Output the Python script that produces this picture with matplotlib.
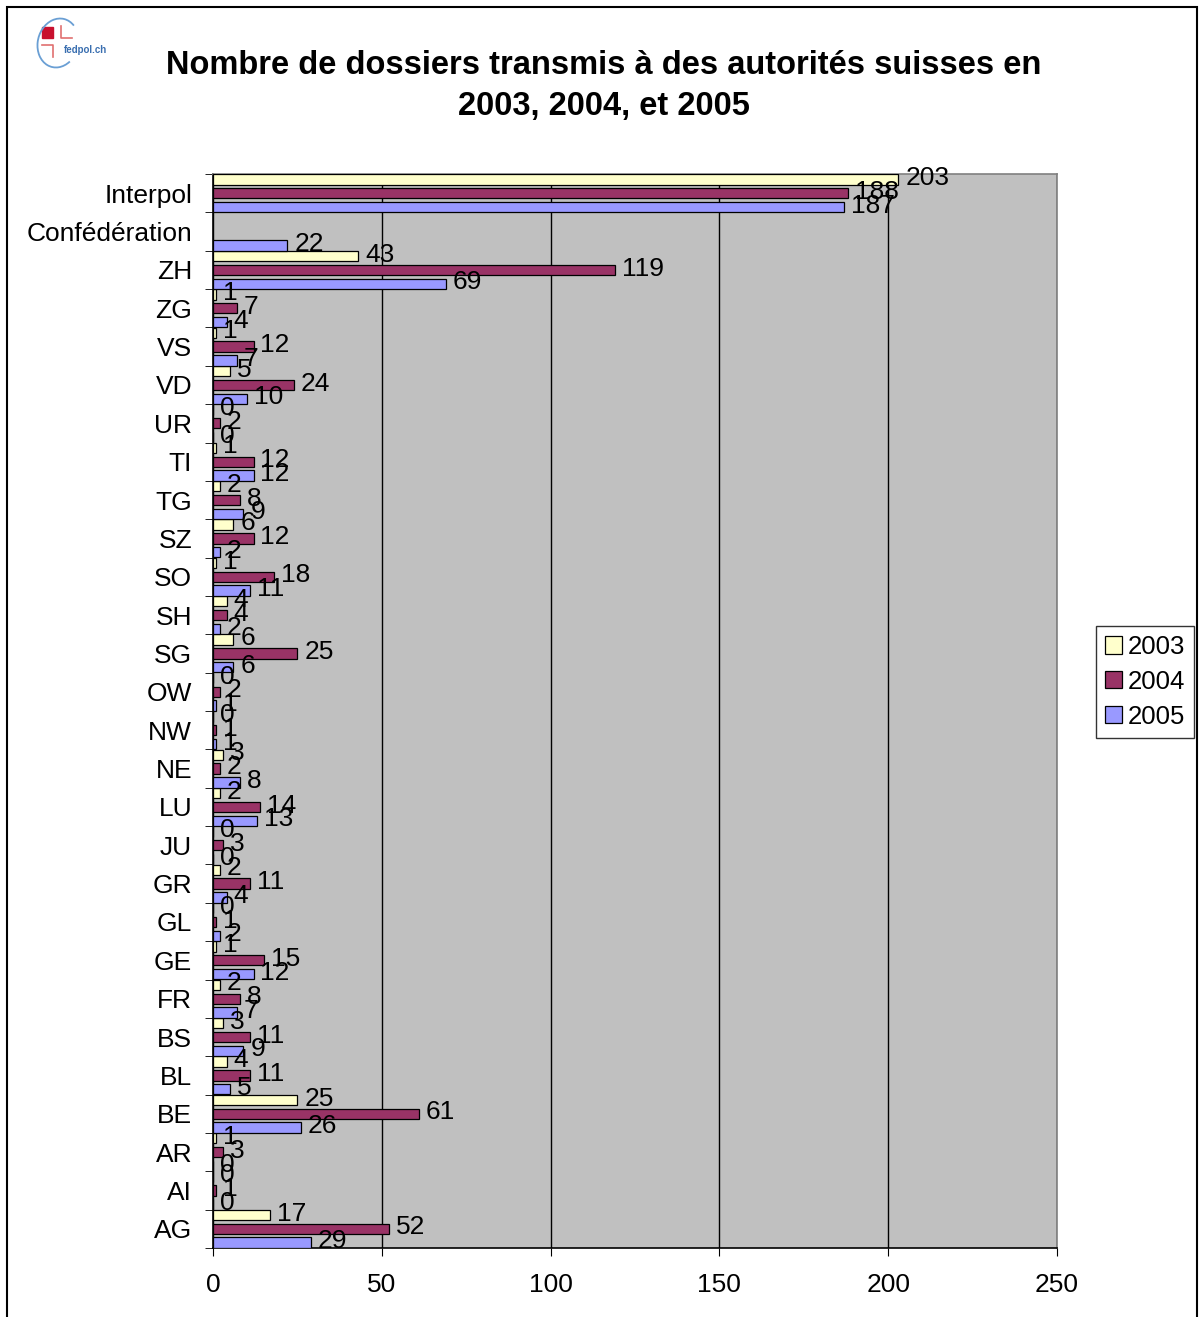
import numpy as np
import matplotlib
matplotlib.use('Agg')
import matplotlib.pyplot as plt
from matplotlib.patches import Rectangle, Patch, Arc
from matplotlib.lines import Line2D

plt.rcParams['font.family'] = ['Liberation Sans', 'DejaVu Sans']

# categories top to bottom
cats = ['Interpol', 'Confédération', 'ZH', 'ZG', 'VS', 'VD', 'UR', 'TI', 'TG', 'SZ',
        'SO', 'SH', 'SG', 'OW', 'NW', 'NE', 'LU', 'JU', 'GR', 'GL', 'GE', 'FR',
        'BS', 'BL', 'BE', 'AR', 'AI', 'AG']
v2003 = [203, np.nan, 43, 1, 1, 5, 0, 1, 2, 6, 1, 4, 6, 0, 0, 3, 2, 0, 2, 0, 1, 2,
         3, 4, 25, 1, 0, 17]
v2004 = [188, np.nan, 119, 7, 12, 24, 2, 12, 8, 12, 18, 4, 25, 2, 1, 2, 14, 3, 11, 1,
         15, 8, 11, 11, 61, 3, 1, 52]
v2005 = [187, 22, 69, 4, 7, 10, 0, 12, 9, 2, 11, 2, 6, 1, 1, 8, 13, 0, 4, 2, 12, 7,
         9, 5, 26, 0, 0, 29]
years = ['2003', '2004', '2005']
colors = ['#FFFFCC', '#993366', '#9999FF']

fig = plt.figure(figsize=(12.02, 13.17), dpi=100)
ax = fig.add_axes([213/1202, 1-1248/1317, (1057-213)/1202, (1248-174)/1317])
ax.set_facecolor('#C0C0C0')

y = np.arange(len(cats))
offs = [-0.36, 0.0, 0.36]
fs = 19
for vals, off, c in zip([v2003, v2004, v2005], offs, colors):
    vals = np.array(vals, dtype=float)
    ax.barh(y + off, vals, height=0.27, color=c, edgecolor='black', linewidth=0.9, zorder=3)
    for yi, v in zip(y + off, vals):
        if np.isnan(v):
            continue
        ax.annotate(str(int(v)), (v, yi), xytext=(5, 1), textcoords='offset points',
                    ha='left', va='center', fontsize=fs, zorder=4, annotation_clip=False)

ax.set_xlim(0, 250)
ax.set_ylim(len(cats) - 0.5, -0.5)
ax.set_xticks(np.arange(0, 251, 50))
ax.xaxis.grid(True, color='black', linewidth=1, zorder=1)
ax.set_axisbelow(True)
ax.tick_params(axis='x', labelsize=fs, length=6, direction='out', pad=12, color='black')

ax.set_yticks(y)
ax.set_yticklabels(cats)
ax.set_yticks(np.arange(-0.5, len(cats), 1), minor=True)
ax.tick_params(axis='y', which='major', length=0, labelsize=fs, pad=15)
ax.tick_params(axis='y', which='minor', length=6, direction='out', color='black')

ax.spines['left'].set_color('black')
ax.spines['bottom'].set_color('black')
ax.spines['top'].set_color('#808080')
ax.spines['right'].set_color('#808080')
for s in ax.spines.values():
    s.set_linewidth(1.2)

fig.text(604/1202, 1-86/1317,
         'Nombre de dossiers transmis à des autorités suisses en\n2003, 2004, et 2005',
         ha='center', va='center', fontsize=23.5, fontweight='bold', linespacing=1.45)

handles = [Patch(facecolor=c, edgecolor='black', linewidth=0.9) for c in colors]
leg = fig.legend(handles, years, loc='upper left', bbox_to_anchor=(1096/1202, 1-626/1317),
                 fontsize=18.5, frameon=True, fancybox=False, edgecolor='black',
                 handlelength=0.65, handleheight=0.65, handletextpad=0.25,
                 borderpad=0.35, labelspacing=0.42, borderaxespad=0)
leg.get_frame().set_linewidth(1.0)

# outer frame of the chart
fig.patches.append(Rectangle((7/1202, -0.01), (1197-7)/1202, 1-7/1317+0.01,
                             transform=fig.transFigure, fill=False,
                             edgecolor='black', linewidth=1.5))

# small fedpol logo
fig.patches.append(Rectangle((42/1202, 1-38/1317), 11/1202, 11/1317,
                             transform=fig.transFigure, color='#C8102E'))
fig.lines.append(Line2D([61/1202, 61/1202, 72/1202], [1-26/1317, 1-38/1317, 1-38/1317],
                        transform=fig.transFigure, color='#E07070', linewidth=1.2))
fig.lines.append(Line2D([42/1202, 53/1202, 53/1202], [1-45/1317, 1-45/1317, 1-57/1317],
                        transform=fig.transFigure, color='#E07070', linewidth=1.2))
fig.patches.append(Arc((58/1202, 1-43/1317), 40/1202, 50/1317, angle=-25,
                       theta1=70, theta2=330, transform=fig.transFigure,
                       color='#6A9FD4', linewidth=1.3))
fig.text(85/1202, 1-50/1317, 'fedpol.ch', ha='center', va='center', fontsize=7,
         fontweight='bold', color='#3A6FB0')

fig.savefig('out.png', dpi=100)
